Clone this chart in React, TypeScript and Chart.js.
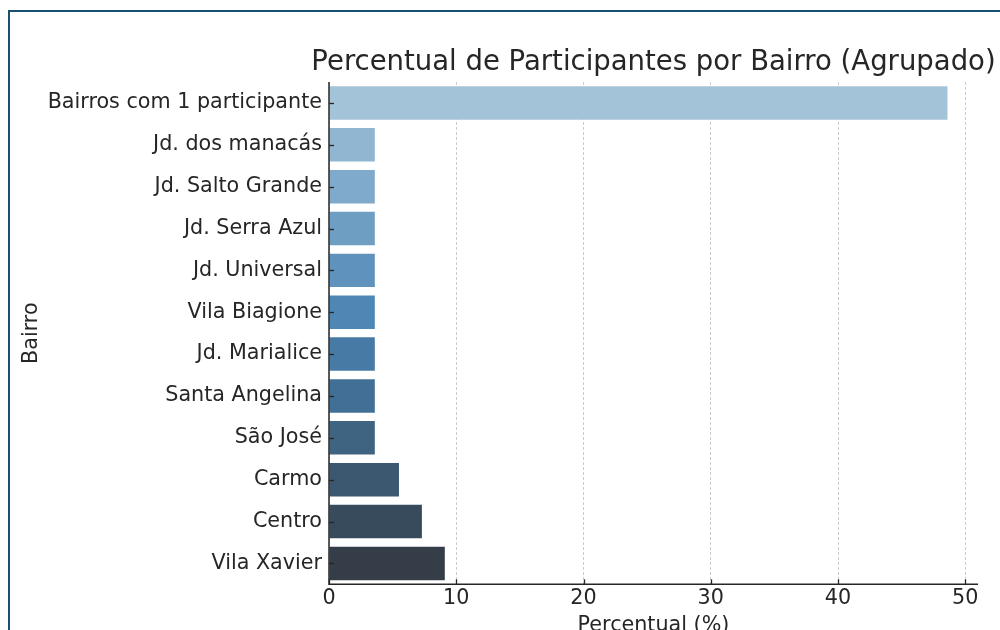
import React, { useEffect, useRef } from "react";
import { Chart, registerables } from "chart.js";

Chart.register(...registerables);

const titleText = "Percentual de Participantes por Bairro (Agrupado)";
const xTitle = "Percentual (%)";
const yTitle = "Bairro";

const categories = [
  "Bairros com 1 participante",
  "Jd. dos manacás",
  "Jd. Salto Grande",
  "Jd. Serra Azul",
  "Jd. Universal",
  "Vila Biagione",
  "Jd. Marialice",
  "Santa Angelina",
  "São José",
  "Carmo",
  "Centro",
  "Vila Xavier",
];

const values = [48.6, 3.6, 3.6, 3.6, 3.6, 3.6, 3.6, 3.6, 3.6, 5.5, 7.3, 9.1];

const barColors = [
  "#a3c3d9",
  "#90b6d2",
  "#80aacb",
  "#6f9ec3",
  "#5f92bc",
  "#4e86b4",
  "#477ba6",
  "#426f95",
  "#3f6482",
  "#3c5870",
  "#384b5d",
  "#343d48",
];

const xTickValues = [0, 10, 20, 30, 40, 50];
const xMax = 51;

const FONT = "'DejaVu Sans', sans-serif";
const TEXT = "#262626";
const LABEL_SIZE = 20.7;
const TITLE_SIZE = 27.5;

const axesDecor = {
  id: "axesDecor",
  afterDatasetsDraw(chart: any) {
    const { ctx, chartArea: a, scales } = chart;
    const x = scales.x;
    const y = scales.y;
    ctx.save();
    ctx.strokeStyle = TEXT;
    ctx.lineWidth = 1.5;
    ctx.beginPath();
    ctx.moveTo(a.left, a.top);
    ctx.lineTo(a.left, a.bottom);
    ctx.lineTo(a.right, a.bottom);
    ctx.stroke();
    ctx.lineWidth = 1.3;
    x.ticks.forEach((_: any, i: number) => {
      const px = Math.round(x.getPixelForTick(i)) + 0.5;
      ctx.beginPath();
      ctx.moveTo(px, a.bottom);
      ctx.lineTo(px, a.bottom - 5);
      ctx.stroke();
    });
    y.ticks.forEach((_: any, i: number) => {
      const py = Math.round(y.getPixelForTick(i)) + 0.5;
      ctx.beginPath();
      ctx.moveTo(a.left, py);
      ctx.lineTo(a.left + 5, py);
      ctx.stroke();
    });
    ctx.restore();
  },
  afterDraw(chart: any) {
    const { ctx, chartArea: a } = chart;
    ctx.save();
    ctx.fillStyle = TEXT;
    ctx.font = `normal ${TITLE_SIZE}px ${FONT}`;
    ctx.textAlign = "center";
    ctx.textBaseline = "alphabetic";
    ctx.fillText(titleText, (a.left + a.right) / 2, 70);
    ctx.restore();
  },
};

export default function App() {
  const ref = useRef<HTMLCanvasElement>(null);

  useEffect(() => {
    if (!ref.current) return;
    const chart = new Chart(ref.current, {
      type: "bar",
      data: {
        labels: categories,
        datasets: [
          {
            data: values,
            backgroundColor: barColors,
            borderWidth: 0,
            categoryPercentage: 1,
            barPercentage: 0.8,
          },
        ],
      },
      options: {
        indexAxis: "y",
        animation: false,
        responsive: false,
        layout: { padding: { left: 19, right: 22, top: 82, bottom: 22 } },
        plugins: {
          legend: { display: false },
          tooltip: { enabled: false },
          title: { display: false },
        },
        scales: {
          x: {
            min: 0,
            max: xMax,
            afterBuildTicks: (s: any) => {
              s.ticks = xTickValues.map((v) => ({ value: v }));
            },
            grid: { color: "#cccccc", lineWidth: 1, drawTicks: false },
            border: { display: false, dash: [3, 2] },
            ticks: {
              padding: 2,
              color: TEXT,
              font: { family: FONT, size: LABEL_SIZE },
              maxRotation: 0,
            },
            title: {
              display: true,
              text: xTitle,
              color: TEXT,
              font: { family: FONT, size: LABEL_SIZE },
              padding: { top: 0, bottom: 0 },
            },
          },
          y: {
            grid: { display: false, drawTicks: false },
            border: { display: false },
            ticks: {
              padding: 7,
              color: TEXT,
              autoSkip: false,
              font: { family: FONT, size: LABEL_SIZE },
            },
            title: {
              display: true,
              text: yTitle,
              color: TEXT,
              font: { family: FONT, size: LABEL_SIZE },
              padding: 0,
            },
            afterFit: (s: any) => {
              s.width = 310;
            },
          },
        },
      },
      plugins: [axesDecor],
    });
    return () => chart.destroy();
  }, []);

  return (
    <div
      style={{
        position: "fixed",
        left: 0,
        top: 0,
        width: 1000,
        height: 630,
        overflow: "hidden",
        background: "#ffffff",
      }}
    >
      <div
        style={{
          position: "absolute",
          left: 8,
          top: 10,
          width: 1100,
          height: 700,
          borderLeft: "2px solid #19506f",
          borderTop: "2px solid #19506f",
        }}
      />
      <canvas
        ref={ref}
        width={1000}
        height={660}
        style={{ position: "absolute", left: 0, top: 0, width: 1000, height: 660 }}
      />
    </div>
  );
}
